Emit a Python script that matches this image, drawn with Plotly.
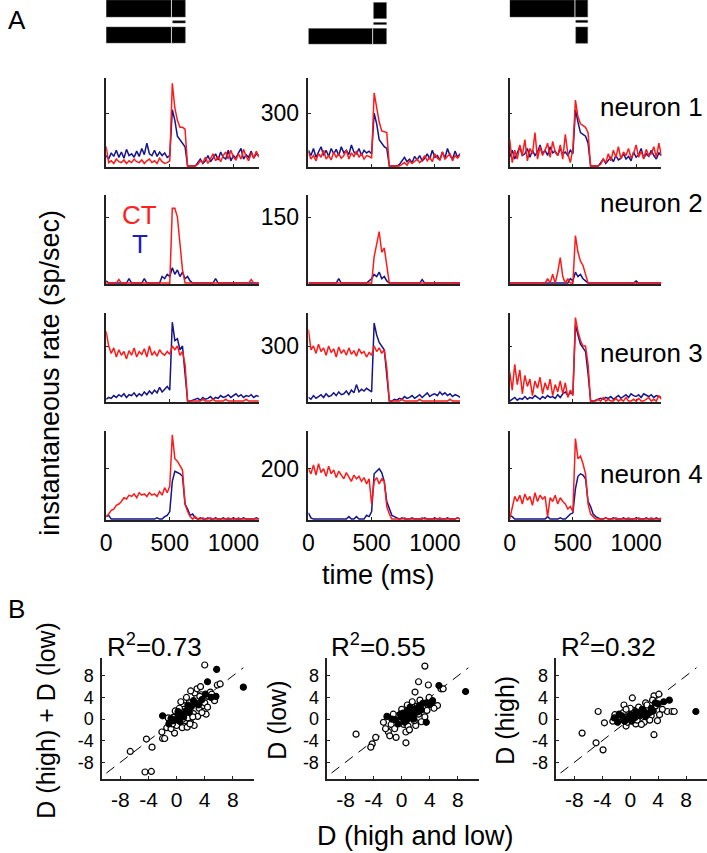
import plotly.graph_objects as go

W, H = 707, 853


def px(x):
    return x / W


def py(y):
    return 1 - y / H


# ---------------- time axis (ms) ----------------
T_MS = list(range(0, 1201, 20))

# ---------------- neuron 1 (rows) x condition columns 1..3 ----------------
n1_c1_T = [60, 40, 75, 55, 90, 50, 80, 45, 95, 60,
           70, 50, 85, 55, 100, 65, 130, 70, 60, 90,
           55, 80, 60, 75, 50, 60, 320, 260, 170, 150,
           130, 110, 0, 0, 0, 0, 20, 40, 15, 30,
           60, 25, 45, 70, 35, 80, 50, 40, 90, 30,
           60, 45, 75, 100, 40, 65, 50, 85, 45, 70,
           60]
n1_c1_CT = [110, 20, 30, 15, 40, 25, 20, 35, 15, 30,
            20, 40, 25, 20, 35, 15, 30, 40, 20, 30,
            15, 45, 25, 15, 20, 30, 470, 330, 260, 220,
            220, 210, 0, 0, 0, 0, 10, 30, 20, 50,
            15, 40, 70, 30, 55, 25, 60, 80, 40, 90,
            50, 35, 70, 40, 95, 55, 30, 75, 45, 85,
            50]
n1_c2_T = [90, 60, 100, 50, 80, 110, 60, 90, 55, 100,
           70, 95, 60, 110, 75, 90, 65, 120, 80, 70,
           100, 60, 90, 75, 85, 70, 300, 240, 150, 130,
           110, 100, 0, 0, 0, 0, 10, 30, 50, 25,
           40, 20, 55, 35, 60, 30, 45, 70, 40, 90,
           50, 60, 35, 80, 45, 100, 60, 40, 85, 50,
           70]
n1_c2_CT = [80, 40, 60, 30, 70, 50, 90, 40, 60, 35,
            80, 50, 70, 45, 60, 90, 40, 75, 55, 85,
            50, 70, 40, 60, 55, 45, 415, 330, 250, 200,
            195, 190, 0, 0, 0, 0, 0, 10, 20, 5,
            30, 15, 25, 40, 20, 35, 60, 30, 50, 25,
            70, 45, 35, 80, 40, 55, 70, 30, 60, 45,
            65]
n1_c3_T = [50, 90, 40, 80, 110, 60, 70, 100, 50, 90,
           60, 80, 120, 70, 90, 60, 110, 75, 85, 60,
           100, 70, 80, 60, 90, 70, 320, 250, 190, 180,
           170, 130, 0, 0, 0, 0, 20, 40, 15, 30,
           50, 25, 60, 35, 45, 70, 40, 55, 30, 80,
           50, 65, 100, 45, 70, 55, 90, 60, 40, 75,
           60]
n1_c3_CT = [150, 20, 90, 40, 120, 60, 150, 30, 100, 70,
            190, 40, 110, 60, 90, 130, 50, 140, 80, 60,
            120, 40, 180, 70, 20, 100, 375, 280, 240, 230,
            220, 190, 0, 0, 0, 0, 10, 40, 20, 70,
            30, 90, 50, 110, 40, 80, 60, 100, 45, 70,
            120, 50, 85, 40, 95, 60, 70, 110, 50, 130,
            60]

# ---------------- neuron 2 ----------------
n2_c1_T = [5, 0, 0, 0, 0, 0, 0, 0, 0, 10,
           0, 0, 0, 0, 0, 10, 0, 0, 0, 0,
           0, 0, 15, 10, 20, 15, 35, 20, 30, 15,
           25, 10, 15, 5, 0, 0, 0, 0, 0, 0,
           0, 0, 0, 10, 0, 0, 0, 0, 0, 0,
           0, 0, 0, 0, 0, 0, 0, 0, 0, 0,
           0]
n2_c1_CT = [0, 0, 0, 0, 0, 8, 0, 0, 0, 0,
            0, 0, 0, 0, 0, 0, 0, 0, 0, 0,
            0, 0, 0, 0, 0, 0, 170, 170, 150, 85,
            30, 0, 0, 0, 0, 0, 0, 0, 0, 0,
            0, 0, 0, 0, 0, 0, 0, 0, 0, 0,
            0, 0, 0, 0, 0, 0, 0, 8, 0, 0,
            0]
n2_c2_T = [0, 0, 0, 0, 0, 0, 0, 0, 0, 0,
           0, 0, 10, 0, 0, 0, 0, 0, 0, 0,
           0, 0, 0, 0, 5, 10, 20, 15, 25, 10,
           15, 5, 0, 0, 0, 0, 0, 0, 0, 0,
           0, 0, 0, 0, 0, 8, 0, 0, 0, 0,
           0, 0, 0, 0, 0, 0, 0, 0, 0, 0,
           0]
n2_c2_CT = [0, 0, 0, 0, 0, 0, 0, 0, 0, 0,
            0, 0, 0, 0, 0, 0, 0, 0, 0, 0,
            0, 0, 0, 0, 0, 0, 60, 90, 117, 70,
            80, 40, 0, 0, 0, 0, 0, 0, 0, 0,
            0, 0, 0, 0, 0, 0, 0, 0, 0, 0,
            0, 0, 0, 0, 0, 0, 0, 0, 0, 0,
            0]
n2_c3_T = [0, 0, 0, 0, 0, 0, 0, 0, 0, 0,
           0, 0, 0, 0, 0, 0, 0, 0, 0, 0,
           0, 0, 0, 0, 10, 5, 25, 15, 20, 10,
           5, 0, 0, 0, 0, 0, 0, 0, 0, 0,
           0, 0, 0, 0, 0, 0, 0, 0, 0, 0,
           5, 0, 0, 0, 0, 0, 0, 0, 0, 0,
           0]
n2_c3_CT = [0, 0, 0, 0, 0, 0, 0, 0, 0, 0,
            0, 0, 0, 0, 0, 10, 0, 20, 0, 25,
            58, 15, 0, 10, 0, 0, 108, 70, 50, 40,
            20, 0, 0, 0, 0, 0, 0, 0, 0, 0,
            0, 0, 0, 0, 0, 0, 0, 0, 0, 0,
            0, 0, 0, 0, 0, 0, 0, 0, 0, 0,
            0]

# ---------------- neuron 3 ----------------
n3_c1_T = [10, 20, 15, 30, 20, 35, 25, 40, 20, 35,
           30, 45, 25, 40, 30, 50, 35, 55, 40, 60,
           45, 75, 50, 65, 80, 60, 430, 330, 340, 280,
           300, 150, 0, 0, 5, 10, 15, 5, 20, 10,
           15, 25, 10, 20, 15, 30, 20, 25, 35, 20,
           30, 40, 25, 35, 20, 30, 25, 35, 20, 30,
           25]
n3_c1_CT = [380, 300, 260, 290, 240, 280, 250, 270, 230, 275,
            250, 290, 240, 270, 255, 285, 240, 300, 250, 270,
            245, 280, 260, 250, 270, 255, 300, 280, 300, 250,
            270, 200, 0, 0, 0, 0, 0, 0, 10, 0,
            0, 0, 10, 0, 0, 0, 0, 10, 0, 0,
            0, 0, 0, 0, 0, 10, 0, 0, 0, 0,
            0]
n3_c2_T = [20, 10, 30, 15, 25, 35, 20, 40, 25, 30,
           45, 30, 50, 35, 40, 55, 35, 60, 45, 90,
           50, 65, 55, 70, 60, 50, 425, 360, 320, 300,
           280, 140, 0, 0, 10, 5, 15, 10, 25, 15,
           20, 30, 15, 25, 35, 20, 30, 45, 25, 35,
           40, 30, 50, 35, 45, 30, 40, 25, 35, 30,
           20]
n3_c2_CT = [390, 280, 300, 260, 310, 270, 290, 250, 300, 265,
            285, 240, 295, 260, 280, 250, 290, 255, 275, 245,
            285, 260, 270, 240, 265, 250, 300, 270, 290, 260,
            280, 180, 0, 0, 0, 0, 0, 10, 0, 0,
            0, 0, 0, 0, 10, 0, 0, 0, 0, 0,
            0, 0, 0, 0, 0, 0, 10, 0, 0, 0,
            0]
n3_c3_T = [0, 10, 20, 5, 15, 10, 25, 10, 20, 15,
           30, 20, 10, 25, 15, 30, 20, 25, 15, 35,
           20, 40, 50, 30, 45, 40, 415, 360, 310, 290,
           270, 150, 0, 0, 5, 10, 15, 10, 20, 15,
           25, 10, 20, 30, 15, 25, 35, 20, 40, 30,
           25, 35, 20, 40, 30, 25, 35, 20, 30, 25,
           20]
n3_c3_CT = [160, 60, 200, 90, 170, 40, 140, 80, 120, 30,
            110, 70, 130, 40, 100, 60, 120, 30, 90, 50,
            110, 40, 100, 20, 60, 30, 455, 380, 330, 300,
            300, 200, 0, 0, 0, 10, 0, 20, 0, 10,
            0, 0, 15, 0, 10, 0, 20, 0, 0, 10,
            0, 15, 0, 0, 10, 20, 0, 10, 0, 30,
            10]

# ---------------- neuron 4 ----------------
n4_c1_T = [10, 15, 0, 0, 0, 0, 0, 0, 0, 0,
           0, 0, 0, 0, 0, 0, 0, 0, 0, 0,
           5, 0, 0, 10, 15, 30, 150, 190, 185, 180,
           170, 60, 40, 15, 20, 5, 0, 5, 0, 0,
           5, 0, 0, 5, 0, 0, 5, 0, 0, 0,
           5, 0, 0, 0, 5, 0, 0, 0, 0, 5,
           0]
n4_c1_CT = [10, 20, 35, 40, 55, 60, 70, 85, 80, 95,
            90, 100, 85, 105, 95, 100, 90, 105, 95, 100,
            90, 110, 95, 125, 105, 130, 335, 240, 230, 215,
            195, 60, 30, 10, 0, 10, 0, 0, 5, 0,
            0, 5, 0, 0, 0, 0, 0, 0, 5, 0,
            0, 0, 5, 0, 0, 0, 0, 0, 0, 0,
            0]
n4_c2_T = [25, 5, 0, 0, 0, 0, 0, 0, 0, 0,
           0, 0, 0, 0, 0, 0, 10, 0, 0, 10,
           0, 0, 0, 15, 10, 30, 180, 190, 200, 185,
           150, 70, 40, 15, 10, 5, 0, 5, 0, 0,
           0, 5, 0, 0, 0, 0, 5, 0, 0, 0,
           5, 0, 0, 0, 0, 5, 0, 0, 0, 5,
           0]
n4_c2_CT = [200, 180, 215, 175, 220, 185, 200, 170, 210, 180,
            195, 165, 190, 175, 160, 185, 170, 150, 175, 160,
            170, 150, 165, 140, 160, 60, 150, 165, 140, 160,
            150, 50, 20, 0, 0, 0, 0, 0, 5, 0,
            0, 0, 0, 0, 0, 5, 0, 0, 0, 0,
            0, 0, 5, 0, 0, 0, 0, 0, 0, 5,
            0]
n4_c3_T = [15, 10, 0, 0, 0, 0, 0, 0, 0, 0,
           0, 0, 0, 0, 0, 10, 0, 0, 0, 0,
           5, 0, 0, 10, 20, 25, 120, 170, 180, 175,
           160, 70, 50, 20, 10, 5, 0, 0, 5, 0,
           0, 5, 0, 0, 0, 5, 0, 0, 0, 0,
           5, 0, 0, 0, 5, 0, 0, 0, 5, 0,
           0]
n4_c3_CT = [0, 50, 90, 70, 95, 60, 100, 75, 90, 55,
            105, 70, 95, 80, 90, 10, 85, 70, 95, 60,
            85, 70, 60, 40, 50, 30, 320, 240, 250, 220,
            180, 60, 20, 10, 0, 0, 0, 0, 5, 0,
            0, 0, 5, 0, 0, 0, 0, 5, 0, 0,
            0, 5, 0, 0, 0, 0, 5, 0, 0, 0,
            5]

RATES_T = [[n1_c1_T, n1_c2_T, n1_c3_T],
           [n2_c1_T, n2_c2_T, n2_c3_T],
           [n3_c1_T, n3_c2_T, n3_c3_T],
           [n4_c1_T, n4_c2_T, n4_c3_T]]
RATES_CT = [[n1_c1_CT, n1_c2_CT, n1_c3_CT],
            [n2_c1_CT, n2_c2_CT, n2_c3_CT],
            [n3_c1_CT, n3_c2_CT, n3_c3_CT],
            [n4_c1_CT, n4_c2_CT, n4_c3_CT]]

ROW_YMAX = [500, 200, 480, 350]
ROW_YTICK = [300, 150, 300, 200]
NEURON_LABELS = ["neuron 1", "neuron 2", "neuron 3", "neuron 4"]
TIME_TICKS = [0, 500, 1000]

# ---------------- scatter data (panel B) ----------------
s1_open_x = [4.0, 5.8, 6.2, 4.2, 5.4, -2.1, -2.0, -1.7, -0.3, 2.0, -4.3, -3.5, -6.6, -4.5, -3.6,
             0.2, 0.8, 1.5, 2.2, 3.0, 3.5, 2.6, 1.8, 1.0, 0.5, -0.5, -1.0, 0.0, 1.2, 1.6, 2.4,
             3.2, 3.8, 4.5, 2.9, 1.4, 0.6, -0.2, -1.4, -0.8, 0.8, 1.5, 2.5, 3.0, 4.0, 4.8, 3.4,
             2.0, 1.0, 0.3, 2.8, -0.6, 0.4, 3.6, 4.4, 5.0, 1.9, 2.3, -1.2, 0.9, 3.3]
s1_open_y = [10.0, 6.3, 6.5, 0.9, 3.4, -2.4, -3.6, -3.6, -2.6, -0.7, -3.7, -5.2, -6.0, -9.8, -9.7,
             0.5, 1.2, 2.0, 2.8, 3.5, 4.5, 4.8, 3.0, 2.5, -0.5, 0.3, -0.5, -1.2, -0.3, 0.2, 1.0,
             2.0, 2.5, 4.2, 5.6, 4.0, 3.2, 1.5, -1.6, -1.8, -1.6, -1.5, -1.2, 0.5, 3.0, 5.0, 6.0,
             5.2, 1.8, 1.0, 3.8, -0.9, 2.0, 1.2, 2.2, 4.6, -0.9, 0.4, 0.2, 0.0, 4.2]
s1_fill_x = [5.7, 9.5, 4.4, 4.9, -2.0, -1.1, 0.1, 0.7, 1.3, 2.1, 2.7, 3.6, 1.0, -0.4, 1.8, 2.4,
             0.4, 3.1, 1.6, 4.1, -0.8, 0.2, 5.6]
s1_fill_y = [9.2, 5.9, 6.9, 4.0, 0.6, -0.9, 0.2, 0.8, 1.5, 2.3, 2.9, 3.6, 0.4, -0.3, 1.2, 3.4,
             -0.4, 2.6, 2.6, 4.6, 0.1, 1.4, 4.2]

s2_open_x = [3.3, 2.4, 3.8, 5.6, 5.9, 1.9, 5.1, 3.3, 2.0, -6.5, -4.2, -4.4, -3.7, -0.8, 0.6, 0.6,
             -1.9, -1.7, -2.3, -1.5, 0.0, 0.8, 1.5, 2.6, 3.0, 1.2, 0.3, -0.6, 1.8, 2.4, 3.6, 4.2,
             -1.0, 0.9, 2.8, -0.3, 1.4, 4.6, -1.2, 2.2, 3.9, 0.5, -2.6, 1.1]
s2_open_y = [9.8, 6.9, 6.3, 5.6, 5.6, 5.0, 2.5, 0.4, -1.2, -2.8, -4.6, -5.2, -3.4, -3.4, -2.4, -4.4,
             -2.4, -3.1, -1.8, -1.0, 1.8, 2.6, 3.2, 3.5, 2.2, 0.2, -1.0, 0.6, -0.3, 0.9, 1.6, 3.0,
             -1.8, -1.3, -0.5, -0.4, 1.4, 2.0, 0.9, 2.4, 4.0, 0.7, -0.6, -2.0]
s2_fill_x = [5.3, 9.1, 3.5, -2.1, -0.5, 0.0, 0.5, 1.0, 1.5, 2.0, 2.5, 3.0, 3.5, 4.0, 0.7, 1.3,
             -0.9, 0.2, 1.8, 2.3, -1.4, 0.9, 2.8, 1.2, 4.4, 0.4, -0.2, 1.7]
s2_fill_y = [6.2, 5.1, -0.6, 0.5, -0.9, 0.3, 0.6, 1.0, 1.6, 1.9, 2.4, 2.9, 3.0, 2.7, -0.2, 0.4,
             -0.1, 1.1, 1.0, 1.3, 0.0, 1.6, 1.7, 2.2, 3.4, -0.6, 0.9, 0.0]

s3_open_x = [0.3, -0.9, 3.4, 4.1, 5.3, 6.0, 6.3, -4.6, -3.7, -6.9, -4.9, -3.9, 3.4, 3.9, -0.6, 0.8,
             2.0, -2.2, -1.6, -1.0, -0.2, 0.5, 1.2, 1.8, 2.6, 3.0, 1.0, -0.4, 2.2, 3.6, 4.6, 1.5,
             0.0, -1.3, 2.8, 0.7, -2.5, 1.6, 4.2, 2.4, 3.2, -0.6]
s3_open_y = [3.9, 2.6, 4.3, 4.6, 1.4, 1.4, 1.4, 1.4, -0.7, -2.6, -4.4, -5.7, -2.9, -0.3, -1.3, -0.9,
             -0.6, 0.8, -0.2, 1.2, 0.4, 1.6, 2.2, 0.9, 1.8, 0.6, -0.2, -0.6, 3.0, 2.4, 1.8, 1.2,
             2.0, 0.4, -0.2, 0.3, -0.4, -1.0, 0.8, 2.6, 3.5, 1.8]
s3_fill_x = [5.6, 9.4, -2.3, -1.8, -1.2, -0.5, 0.0, 0.5, 1.0, 1.4, 2.0, 2.5, 3.0, 3.6, 4.0, -1.6,
             0.2, 1.7, 2.8, 0.8, -0.8, 3.3, 2.2, 4.8]
s3_fill_y = [3.5, 1.4, 0.2, -0.6, 0.6, 0.0, 0.8, 0.2, 1.0, 0.6, 1.4, 1.0, 2.0, 3.0, 2.8, 0.9,
             -0.4, 1.8, 1.2, 1.4, -0.4, 1.5, 0.5, 3.2]

SCATTER_OPEN_X = [s1_open_x, s2_open_x, s3_open_x]
SCATTER_OPEN_Y = [s1_open_y, s2_open_y, s3_open_y]
SCATTER_FILL_X = [s1_fill_x, s2_fill_x, s3_fill_x]
SCATTER_FILL_Y = [s1_fill_y, s2_fill_y, s3_fill_y]
R2_LABELS = ["R<sup>2</sup>=0.73", "R<sup>2</sup>=0.55", "R<sup>2</sup>=0.32"]
SCATTER_YLABELS = ["D (high) + D (low)", "D (low)", "D (high)"]
UNITY_LINE = [-10, 9.5]
D_TICKS = [-8, -4, 0, 4, 8]
D_TICKTEXT = ["-8", "-4", "0", "4", "8"]

# ---------------- styling / layout geometry ----------------
RED = "#ff1a1a"
BLUE = "#14148c"
AXC = "#222222"
FONT = "Liberation Sans, Arial, Helvetica, sans-serif"

COL_X = [(101, 255), (305, 458), (508, 661)]
ROW_Y = [(78, 167), (195, 284), (313, 402), (431, 520)]
SC_X = [(97, 250), (324, 477), (555, 707)]
SC_Y = (658, 779)

fig = go.Figure()
layout = dict(width=W, height=H, margin=dict(l=0, r=0, t=0, b=0),
              paper_bgcolor="white", plot_bgcolor="white", showlegend=False,
              font=dict(family=FONT, color="black", size=22))

for r in range(4):
    for c in range(3):
        idx = r * 3 + c + 1
        xa = "x" if idx == 1 else f"x{idx}"
        ya = "y" if idx == 1 else f"y{idx}"
        fig.add_trace(go.Scatter(x=T_MS, y=RATES_T[r][c], mode="lines",
                                 line=dict(color=BLUE, width=1.5),
                                 xaxis=xa, yaxis=ya, hoverinfo="skip"))
        fig.add_trace(go.Scatter(x=T_MS, y=RATES_CT[r][c], mode="lines",
                                 line=dict(color=RED, width=1.5),
                                 xaxis=xa, yaxis=ya, hoverinfo="skip"))
        ymax = ROW_YMAX[r]
        layout["xaxis" if idx == 1 else f"xaxis{idx}"] = dict(
            domain=[px(COL_X[c][0]), px(COL_X[c][1])], range=[0, 1200],
            anchor=ya, showline=True, linecolor=AXC, linewidth=1.5,
            ticks="inside", ticklen=3, tickcolor=AXC, tickwidth=1,
            tickvals=TIME_TICKS, showticklabels=(r == 3),
            tickfont=dict(size=23), ticklabelstandoff=2,
            showgrid=False, zeroline=False, layer="below traces")
        layout["yaxis" if idx == 1 else f"yaxis{idx}"] = dict(
            domain=[py(ROW_Y[r][1]), py(ROW_Y[r][0])], range=[-ymax * 0.01, ymax],
            anchor=xa, showline=True, linecolor=AXC, linewidth=1.5,
            ticks="inside", ticklen=3, tickcolor=AXC, tickwidth=1,
            tickvals=[ROW_YTICK[r]], showticklabels=(c == 1),
            tickfont=dict(size=23), ticklabelstandoff=3,
            showgrid=False, zeroline=False, layer="below traces")

for k in range(3):
    idx = 13 + k
    xa, ya = f"x{idx}", f"y{idx}"
    fig.add_trace(go.Scatter(x=UNITY_LINE, y=UNITY_LINE, mode="lines",
                             line=dict(color="black", width=1, dash="10px,7px"),
                             xaxis=xa, yaxis=ya, hoverinfo="skip"))
    fig.add_trace(go.Scatter(x=SCATTER_OPEN_X[k], y=SCATTER_OPEN_Y[k], mode="markers",
                             marker=dict(symbol="circle", size=6, color="white",
                                         line=dict(color="black", width=1.2)),
                             xaxis=xa, yaxis=ya, hoverinfo="skip"))
    fig.add_trace(go.Scatter(x=SCATTER_FILL_X[k], y=SCATTER_FILL_Y[k], mode="markers",
                             marker=dict(symbol="circle", size=6, color="black",
                                         line=dict(color="black", width=1.2)),
                             xaxis=xa, yaxis=ya, hoverinfo="skip"))
    common = dict(showline=True, linecolor=AXC, linewidth=1.5, ticks="inside",
                  ticklen=3, tickcolor=AXC, tickvals=D_TICKS, ticktext=D_TICKTEXT,
                  showgrid=False, zeroline=False, layer="below traces")
    layout[f"xaxis{idx}"] = dict(domain=[px(SC_X[k][0]), px(SC_X[k][1])],
                                 range=[-10.6, 11], anchor=ya, ticklabelstandoff=1,
                                 tickfont=dict(size=21, family=FONT), **common)
    layout[f"yaxis{idx}"] = dict(domain=[py(SC_Y[1]), py(SC_Y[0])],
                                 range=[-11.1, 11.3], anchor=xa, ticklabelstandoff=3,
                                 tickfont=dict(size=18, family=FONT), **common)

fig.update_layout(**layout)

# ---------------- stimulus schematic bars (top) ----------------
BAR_EDGE = "#555555"


def bar(col, x0, x1, y0, y1):
    xr = "x" if col == 0 else f"x{col + 1}"
    fig.add_shape(type="rect", xref=xr, yref="paper", x0=x0, x1=x1,
                  y0=py(y1), y1=py(y0), fillcolor="black",
                  line=dict(color=BAR_EDGE, width=0.5), layer="above")


def sep(col, x, y0, y1):
    xr = "x" if col == 0 else f"x{col + 1}"
    fig.add_shape(type="line", xref=xr, yref="paper", x0=x, x1=x,
                  y0=py(y1), y1=py(y0), line=dict(color="#d8d8d8", width=1), layer="above")


# column 1: both stimuli present in both bars
bar(0, 0, 622, 0, 17)
bar(0, 0, 622, 27, 43)
bar(0, 523, 622, 20.7, 23)
sep(0, 513, 0, 17)
sep(0, 513, 27, 43)
# column 2
bar(1, 516, 617, 2.5, 18.5)
bar(1, 516, 617, 22.5, 24.5)
bar(1, 0, 617, 28.5, 44)
sep(1, 508, 28.5, 44)
# column 3
bar(2, 0, 617, 0, 17)
bar(2, 523, 617, 20.3, 22.5)
bar(2, 523, 617, 27, 43.3)
sep(2, 516, 0, 17)

# ---------------- text annotations ----------------
def ann(text, x, y, size, xanchor="center", yanchor="middle", color="black", angle=0):
    fig.add_annotation(text=text, x=px(x), y=py(y), xref="paper", yref="paper",
                       showarrow=False, xanchor=xanchor, yanchor=yanchor,
                       textangle=angle, font=dict(size=size, color=color, family=FONT))


ann("A", 0, 20, 26, xanchor="left")
ann("B", 0, 609, 26, xanchor="left")
ann("instantaneous rate (sp/sec)", 44, 373, 27, angle=-90)
ann("time (ms)", 375, 575, 27)
ann("CT", 135, 215, 26, color="#ff2020")
ann("T", 135, 244, 26, color="#1f1fb4")

NEURON_Y = [107, 203, 353, 474]
for r in range(4):
    ann(NEURON_LABELS[r], 597, NEURON_Y[r], 26, xanchor="left")

R2_X = [100, 326, 558]
SC_YLABEL_X = [40, 273, 503]
for k in range(3):
    ann(R2_LABELS[k], R2_X[k], 664, 26, xanchor="left", yanchor="bottom")
    ann(SCATTER_YLABELS[k], SC_YLABEL_X[k], 720, 25, angle=-90)
ann("D (high and low)", 413, 836, 27)

fig.write_html(
    "out.html",
    config={"displayModeBar": False},
    post_script="document.body.style.margin='0';document.body.style.overflow='hidden';",
)
